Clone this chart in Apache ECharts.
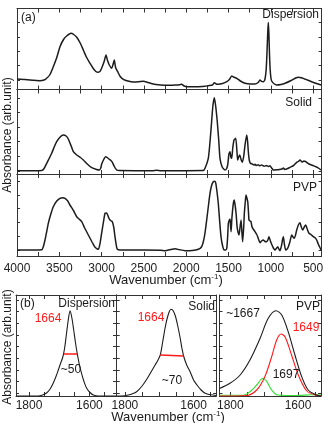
<!DOCTYPE html>
<html><head><meta charset="utf-8">
<script src="https://cdn.jsdelivr.net/npm/echarts@6/dist/echarts.min.js"></script>
<style>html,body{margin:0;padding:0;background:#fff}#c{width:324px;height:423px}</style>
</head><body><div id="c"></div>
<script>
// ---------- data (arb. units) ----------
const dispersionSpectrum = [[4000,10.5],[3900,10],[3800,9.2],[3728,8.8],[3680,9.5],[3649,11.2],[3610,15],[3571,22.8],[3530,32],[3492,42.8],[3450,50],[3413,53.5],[3362,56.2],[3330,55],[3294,52.2],[3250,46],[3216,39.5],[3180,32.5],[3137,26.2],[3090,20],[3051,17.2],[3020,18],[3000,21.2],[2970,28],[2948,34.5],[2930,29],[2909,24.5],[2881,21.2],[2865,25],[2850,29.5],[2835,22],[2810,17.8],[2780,13],[2743,10.2],[2690,8.5],[2625,7.5],[2560,7.8],[2507,8.2],[2450,7],[2389,5.5],[2300,4.6],[2231,4.2],[2130,4.5],[2080,4.8],[2053,5.2],[2030,3.8],[1994,2.8],[1900,2.7],[1857,2.8],[1780,3.2],[1739,3.8],[1690,4.5],[1668,6.8],[1645,5.5],[1621,5.2],[1570,6],[1521,7.8],[1490,10],[1462,13.5],[1440,12.5],[1403,11.2],[1360,8.5],[1305,6.2],[1240,5.5],[1187,5.5],[1150,7],[1128,9.5],[1110,8.2],[1089,7.8],[1070,10],[1055,20],[1045,38],[1036,58],[1030,67],[1024,58],[1016,36],[1008,20],[998,11],[990,8.5],[965,6],[931,4.5],[880,5],[832,6.2],[760,9],[700,11.8],[675,12.2],[640,11.8],[600,10.5],[560,9.2],[517,7.8],[460,6],[407,4.5]];
const solidSpectrum = [[4000,3.3],[3800,3.3],[3708,3.5],[3680,5.5],[3649,10.7],[3620,15.5],[3590,20.7],[3560,27],[3531,32.3],[3490,37],[3453,39],[3420,38],[3394,35],[3360,28],[3334,22.3],[3294,19],[3250,16.5],[3216,14],[3170,10],[3117,6.3],[3060,4.5],[3027,4],[3010,6],[3000,9.7],[2975,14.5],[2952,17.3],[2935,16.5],[2913,15],[2890,13.5],[2873,11.7],[2850,7.5],[2822,4],[2790,3.4],[2600,3.3],[2400,3.3],[2350,3.8],[2300,3.3],[2000,3.3],[1800,3.4],[1778,5.7],[1739,15.7],[1718,33],[1700,52.3],[1685,68],[1668,76.3],[1652,68],[1633,52.3],[1615,33],[1601,15.7],[1575,7],[1542,4],[1525,5],[1510,9],[1495,20],[1482,22.3],[1472,17],[1462,15.7],[1450,26],[1435,34],[1415,35.7],[1400,22],[1392,14],[1380,17],[1368,19],[1350,14],[1337,11.7],[1320,18],[1305,29],[1285,39],[1275,33],[1266,22.3],[1255,14],[1242,10.7],[1220,10],[1200,9],[1187,9.7],[1170,8.5],[1150,9.2],[1130,8.2],[1108,9],[1080,7.8],[1050,8.5],[1030,7.5],[1010,8.3],[990,6],[970,4],[930,4.2],[900,4.5],[870,5],[852,6],[835,4.5],[800,5.5],[773,6.7],[740,8],[720,9.5],[694,11.7],[675,12.5],[655,14],[630,12],[610,13],[590,12.5],[576,11.7],[550,10],[520,9],[498,8.3],[460,7],[430,5.5],[407,4]];
const pvpSpectrum = [[4000,6],[3800,6],[3708,6.2],[3690,9],[3669,16],[3650,24],[3630,32.7],[3600,42],[3571,49.3],[3530,55],[3492,57.7],[3460,58.3],[3433,57.7],[3400,55],[3374,51],[3330,45],[3294,39.3],[3260,36.5],[3235,34.3],[3200,28],[3157,21],[3110,13.5],[3078,8.7],[3039,6.7],[3020,12],[3000,22.7],[2980,33],[2960,42.7],[2945,43],[2933,42],[2915,38],[2901,36],[2885,35],[2873,34.3],[2855,28],[2842,19.3],[2825,10],[2814,6.7],[2780,6],[2500,6],[2300,5.8],[2251,5.3],[2180,6.5],[2132,7.3],[2080,6.3],[2014,5.3],[1930,5.5],[1857,6.7],[1820,9],[1798,14.3],[1778,23],[1758,36],[1738,50],[1719,62.7],[1700,70.5],[1680,74.3],[1665,74.8],[1652,73.3],[1636,64],[1621,52.7],[1605,35],[1589,19.3],[1570,10],[1550,6],[1535,6],[1521,7.7],[1510,20],[1502,32.7],[1490,36],[1482,36.7],[1476,30],[1470,24.3],[1460,38],[1443,52.7],[1430,56],[1423,56],[1410,42],[1399,29.3],[1388,24],[1376,21],[1365,28],[1352,36],[1342,24],[1333,14.3],[1320,30],[1313,42.7],[1300,56],[1293,61],[1283,58],[1273,54.3],[1265,45],[1258,36],[1245,35],[1234,34.3],[1225,30],[1214,27.7],[1200,26],[1187,24.3],[1170,22],[1155,19.3],[1140,15.5],[1128,13.3],[1110,15],[1089,16],[1070,14.5],[1049,14.3],[1035,16],[1022,19.3],[1005,15],[990,11.7],[970,8],[951,6],[935,7.5],[919,9.3],[905,7],[892,5.3],[875,10],[860,17],[852,19.3],[840,12],[824,6],[808,7],[793,9.3],[775,14],[753,21],[738,19],[722,17.7],[708,21],[694,26],[675,31],[655,33.3],[640,29],[623,26],[605,29],[588,31],[570,27],[549,22.7],[520,21],[498,19.3],[475,18],[458,16],[440,12],[420,8.5],[407,6]];

const dispersionAmide = [[1843,0],[1770,0],[1755,1],[1742,3],[1730,7],[1720,12.7],[1710,20],[1703,26],[1695,33],[1688,39],[1682,48],[1676,62],[1670,76],[1664,85.3],[1658,78],[1652,66],[1646,53],[1640,42],[1633,31],[1626,22.7],[1618,14.5],[1609,7.7],[1598,3.5],[1587,1],[1570,0],[1512,0]];
const solidAmide = [[1824,0],[1800,0.3],[1790,1],[1780,2],[1766,4.3],[1750,10],[1736,17],[1724,24],[1712,31],[1705,35],[1697,41],[1690,54],[1683,68],[1675,80],[1666,86.7],[1660,85.5],[1653,80],[1646,70],[1639,58],[1634,48],[1629,40],[1620,31],[1610,24.3],[1600,16],[1590,11],[1578,6],[1566,2.7],[1550,1.2],[1534,0.5]];
const pvpAmide = [[1832,7.5],[1801,12.7],[1771,21],[1742,36],[1712,57.7],[1688,77.7],[1665,85.3],[1648,81],[1629,64.3],[1609,41],[1589,19.3],[1570,6],[1545,1],[1532,0]];
const pvpBand1649 = [[1832,0],[1752,0.5],[1722,6],[1698,19.3],[1678,39],[1663,56],[1650,62],[1638,59],[1619,41],[1599,21],[1574,5],[1545,0.7],[1532,0.3]];
const pvpBand1697 = [[1832,0.7],[1762,0.7],[1742,4.3],[1722,11],[1704,17.7],[1692,14.3],[1678,6],[1660,1],[1600,0.5],[1560,1.2],[1532,1]];
const dispersionFwhm = [[1684,42],[1640,42]];
const solidFwhm = [[1697,41],[1629,40]];

const wideTickLabels = [4000,3500,3000,2500,2000,1500,1000,500];
const wideTicks = [3750,3500,3250,3000,2750,2500,2250,2000,1750,1500,1250,1000,750,500];
const amideTickLabels = [1800,1600];
const amideTicks = [1800,1750,1700,1650,1600,1550];
const yTicksDisp = [9.5,23.9,38.3,52.7,67.1];
const yTicksSolid = [3.1,17.7,32.3,46.9,61.5,76.1];
const yTicksPvp = [6,19.8,33.6,47.4,61.2,75];
const yTicksAmide = [2.6,14.3,26,37.7,49.4,61.1,72.8,84.5,96.2];

// ---------- layout ----------
const FONT = 'Liberation Sans, Arial, sans-serif';
const AX = '#333';
const grids = [
  {left:17, top:8.5, width:304.6, height:81},
  {left:17, top:89.5, width:304.6, height:84.5},
  {left:17, top:174, width:304.6, height:82},
  {left:16, top:295, width:100, height:101},
  {left:116.7, top:295, width:99.5, height:101},
  {left:219.5, top:295, width:101.5, height:101}
].map(g=>Object.assign({outerBoundsMode:'none', containLabel:false}, g));
const xRanges = [[400,4000],[400,4000],[400,4000],[1512,1843],[1534,1824],[1532,1832]];
const yMax = [81,84.5,82,101,101,101];
const yTickSets = [yTicksDisp,yTicksSolid,yTicksPvp,yTicksAmide,yTicksAmide,yTicksAmide];

const xAxes = [], yAxes = [];
grids.forEach((g,i)=>{
  const wide = i<3;
  ['bottom','top'].forEach(pos=>{
    const showLab = pos==='bottom' && (i===2 || i>=3);
    xAxes.push({
      type:'value', gridIndex:i, position:pos, inverse:true,
      min:xRanges[i][0], max:xRanges[i][1],
      axisLine:{show:true,onZero:false,lineStyle:{color:AX,width:1}},
      axisTick:{show:true,inside:true,length:4,customValues: wide?wideTicks:amideTicks,lineStyle:{color:AX}},
      axisLabel:{show:showLab,customValues: wide?wideTickLabels:amideTickLabels,
        formatter:v=>String(v), hideOverlap:false,
        margin: wide?7:4, fontSize:12, color:'#222', fontFamily:FONT},
      splitLine:{show:false}
    });
  });
  ['left','right'].forEach(pos=>{
    yAxes.push({
      type:'value', gridIndex:i, position:pos, min:0, max:yMax[i],
      axisLine:{show:true,onZero:false,lineStyle:{color:AX,width:1}},
      axisTick:{show:true,inside:true,length:3,customValues:yTickSets[i],lineStyle:{color:AX}},
      axisLabel:{show:false}, splitLine:{show:false}
    });
  });
});

function line(data, gi, color, width, smooth){
  return {type:'line', data:data, xAxisIndex:gi*2, yAxisIndex:gi*2, showSymbol:false,
    smooth:smooth, silent:true, lineStyle:{color:color,width:width}, z:3};
}
const BLK = '#1c1c1c', RED = '#ff1a1a', GRN = '#33dd33';
const series = [
  line(dispersionSpectrum,0,BLK,1.5,0.2),
  line(solidSpectrum,1,BLK,1.5,0.2),
  line(pvpSpectrum,2,BLK,1.5,0.2),
  line(dispersionAmide,3,BLK,1.1,0.3),
  line(dispersionFwhm,3,RED,1.5,false),
  line(solidAmide,4,BLK,1.1,0.3),
  line(solidFwhm,4,RED,1.5,false),
  line(pvpBand1697,5,GRN,1.1,0.3),
  line(pvpBand1649,5,RED,1.1,0.3),
  line(pvpAmide,5,BLK,1.1,0.3)
];

function txt(s,x,y,opt){
  return {type:'text', x:x, y:y, silent:true, rotation:opt&&opt.rot||0, z:10,
    style:Object.assign({text:s, fontSize:12, fontFamily:FONT, fill:'#1a1a1a',
      align:'left', verticalAlign:'middle'}, opt&&opt.style||{})};
}
const rich = {sup:{fontSize:8, fontFamily:FONT, fill:'#1a1a1a', verticalAlign:'top', padding:[0,0,6,0]}};
const graphic = [
  txt('(a)',21,18),
  txt('Dispersion',319,14.5,{style:{align:'right'}}),
  txt('Solid',312,103,{style:{align:'right'}}),
  txt('PVP',317,188,{style:{align:'right'}}),
  txt('Absorbance (arb.unit)',8,135,{rot:Math.PI/2,style:{align:'center'}}),
  txt('Wavenumber (cm{sup|-1})',166,280,{style:{align:'center',fontSize:13,rich:rich}}),
  txt('(b)',20,304),
  txt('Dispersion',115,304,{style:{align:'right'}}),
  txt('1664',48,319,{style:{align:'center',fill:RED}}),
  txt('~50',71,370,{style:{align:'center'}}),
  txt('Solid',215,307,{style:{align:'right'}}),
  txt('1664',151,318,{style:{align:'center',fill:RED}}),
  txt('~70',172,381,{style:{align:'center'}}),
  txt('~1667',243,313.5,{style:{align:'center'}}),
  txt('PVP',320,307,{style:{align:'right'}}),
  txt('1649',306,328,{style:{align:'center',fill:RED}}),
  txt('1697',286,375,{style:{align:'center'}}),
  txt('Absorbance (arb.unit)',7.5,347,{rot:Math.PI/2,style:{align:'center'}}),
  txt('Wavenumber (cm{sup|-1})',168,417,{style:{align:'center',fontSize:13,rich:rich}})
];

const chart = echarts.init(document.getElementById('c'), null, {renderer:'canvas'});
chart.setOption({animation:false, backgroundColor:'#fff', grid:grids, xAxis:xAxes, yAxis:yAxes, series:series, graphic:graphic});
</script></body></html>
